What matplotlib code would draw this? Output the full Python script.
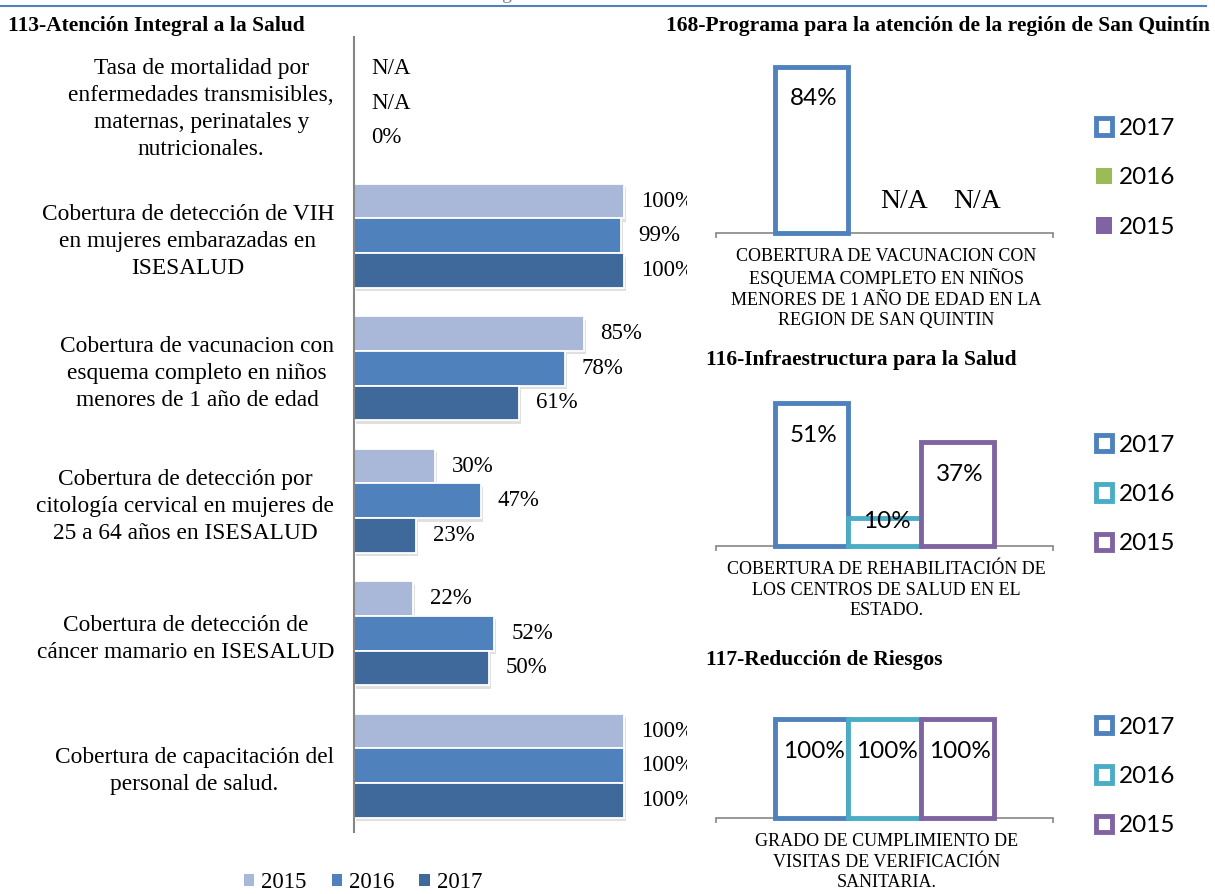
import matplotlib
matplotlib.use('Agg')
import matplotlib.pyplot as plt
from matplotlib.patches import Patch
from matplotlib.lines import Line2D
import matplotlib.patheffects as pe
import numpy as np

# ---------------- data ----------------
left_title = "113-Atención Integral a la Salud"
left_categories = [
    "Tasa de mortalidad por\nenfermedades transmisibles,\nmaternas, perinatales y\nnutricionales.",
    "Cobertura de detección de VIH\nen mujeres embarazadas en\nISESALUD",
    "Cobertura de vacunacion con\nesquema completo en niños\nmenores de 1 año de edad",
    "Cobertura de detección por\ncitología cervical en mujeres de\n25 a 64 años en ISESALUD",
    "Cobertura de detección de\ncáncer mamario en ISESALUD",
    "Cobertura de capacitación del\npersonal de salud.",
]
left_years = ["2015", "2016", "2017"]
left_2015 = [None, 1.00, 0.85, 0.30, 0.22, 1.00]
left_2016 = [None, 0.99, 0.78, 0.47, 0.52, 1.00]
left_2017 = [0.00, 1.00, 0.61, 0.23, 0.50, 1.00]

right_years = ["2017", "2016", "2015"]
p168_title = "168-Programa para la atención de la región de San Quintín"
p168_category = ("COBERTURA DE VACUNACION CON\nESQUEMA COMPLETO EN NIÑOS\n"
                 "MENORES DE 1 AÑO DE EDAD EN LA\nREGION DE SAN QUINTIN")
p168_values = [0.84, None, None]
p116_title = "116-Infraestructura para la Salud"
p116_category = "COBERTURA DE REHABILITACIÓN DE\nLOS CENTROS DE SALUD EN EL\nESTADO."
p116_values = [0.51, 0.10, 0.37]
p117_title = "117-Reducción de Riesgos"
p117_category = "GRADO DE CUMPLIMIENTO DE\nVISITAS DE VERIFICACIÓN\nSANITARIA."
p117_values = [1.00, 1.00, 1.00]

header_text = "Programa Sectorial de Salud del Estado"

# ---------------- style ----------------
W, H, DPI = 1215, 894, 100
SERIF = "Liberation Serif"
SANS = "Lato"
left_colors = ["#A9B8D8", "#4F81BD", "#3F699A"]
blue, cyan, purple, green = "#4F81BD", "#4BACC6", "#8064A2", "#9BBB59"
axis_gray = "#868686"

fig = plt.figure(figsize=(W / DPI, H / DPI), dpi=DPI)
fig.patch.set_facecolor("white")


def px_axes(left, top, right, bottom):
    return fig.add_axes([left / W, 1 - bottom / H, (right - left) / W, (bottom - top) / H])


# header line and (clipped, as in the source page) header text
fig.add_artist(Line2D([0, 1206 / W], [1 - 6 / H, 1 - 6 / H], color=blue, lw=1.5))
fig.text(630 / W, 1 - 3 / H, header_text, ha="center", va="bottom",
         color="#7F7F7F", fontsize=14, family=SERIF)

# titles
title_kw = dict(fontsize=15.5, family=SERIF, fontweight="bold", va="center")
fig.text(8 / W, 1 - 26 / H, left_title, ha="left", **title_kw)
fig.text(1210 / W, 1 - 26 / H, p168_title, ha="right", **title_kw)
fig.text(706 / W, 1 - 360 / H, p116_title, ha="left", **title_kw)
fig.text(706 / W, 1 - 660 / H, p117_title, ha="left", **title_kw)

# ---------------- left horizontal bar chart ----------------
LX0, LX1 = 354, 687
scale_left = 270.0
ax = px_axes(LX0, 37, LX1, 832)
ax.set_xlim(0, (LX1 - LX0) / scale_left)
ax.set_ylim(len(left_categories) - 0.5, -0.5)
y = np.arange(len(left_categories))
bh = 0.262
offsets = [-bh, 0.0, bh]
series = [left_2015, left_2016, left_2017]
shadow = [pe.SimplePatchShadow(offset=(1.5, -2.5), shadow_rgbFace="black", alpha=0.12), pe.Normal()]
for vals, off, col in zip(series, offsets, left_colors):
    plot_vals = [0 if v is None else v for v in vals]
    ax.barh(y + off, plot_vals, height=bh, color=col, edgecolor="white",
            linewidth=1.3, path_effects=shadow, zorder=2)
    for j, v in enumerate(vals):
        txt = "N/A" if v is None else f"{round(v * 100)}%"
        ax.annotate(txt, xy=(0 if v is None else v, y[j] + off), xytext=(17, 0),
                    textcoords="offset pixels", ha="left", va="center",
                    fontsize=16.5, family=SERIF, clip_on=True, annotation_clip=False)

ax.set_yticks(y)
ax.set_yticklabels(left_categories, fontsize=16.8, family=SERIF,
                   multialignment="center", linespacing=1.38)
ax.tick_params(axis="y", length=0, pad=14.4)
ax.set_xticks([])
for s in ["top", "right", "bottom"]:
    ax.spines[s].set_visible(False)
ax.spines["left"].set_color(axis_gray)
ax.spines["left"].set_linewidth(1.5)
ax.patch.set_visible(False)

left_handles = [Patch(facecolor=c, edgecolor="none", label=yr)
                for c, yr in zip(left_colors, left_years)]
ax.legend(handles=left_handles, loc="center", bbox_to_anchor=(363 / W, 1 - 883 / H),
          bbox_transform=fig.transFigure, ncol=3, frameon=False,
          prop={"family": SERIF, "size": 16.5}, handlelength=0.45,
          handleheight=0.45, handletextpad=0.3, columnspacing=1.1,
          borderpad=0, borderaxespad=0)

# ---------------- right column charts ----------------
bw = 73 / 337
r_offsets = [-bw, 0.0, bw]


def panel(top, bottom, scale, values, colors, handles, category, leg_cy):
    a = px_axes(716, top, 1053, bottom)
    a.set_xlim(-0.5, 0.5)
    a.set_ylim(0, (bottom - top) / scale)
    for v, off, c in zip(values, r_offsets, colors):
        if v is None:
            a.annotate("N/A", xy=(off, 0), xytext=(20, 31), textcoords="offset pixels",
                       ha="center", va="center", fontsize=20, family=SERIF)
            continue
        a.bar(off, v, width=bw, facecolor="white", edgecolor=c, linewidth=3.5,
              clip_on=False, zorder=3)
        hpx = v * scale
        dy = -min(32, hpx - 24)
        a.annotate(f"{round(v * 100)}%", xy=(off, v), xytext=(2, dy),
                   textcoords="offset pixels", ha="center", va="center",
                   fontsize=17.5, family=SANS, zorder=4)
    for s in ["top", "right", "left"]:
        a.spines[s].set_visible(False)
    a.spines["bottom"].set_color(axis_gray)
    a.spines["bottom"].set_linewidth(1.2)
    a.set_yticks([])
    a.set_xticks([-0.5, 0.5])
    a.set_xticklabels(["", ""])
    a.tick_params(axis="x", length=3.6, width=1.2, color=axis_gray, direction="out")
    a.patch.set_visible(False)
    a.annotate(category, xy=(0.5, 0), xycoords="axes fraction", xytext=(2, -15),
               textcoords="offset pixels", ha="center", va="top", fontsize=13,
               family=SERIF, multialignment="center", linespacing=1.28)
    a.legend(handles=handles, loc="center left",
             bbox_to_anchor=(1096 / W, 1 - leg_cy / H), bbox_transform=fig.transFigure,
             frameon=False, prop={"family": SANS, "size": 17.5}, handlelength=0.65,
             handleheight=0.65, handletextpad=0.3, labelspacing=1.17,
             borderpad=0, borderaxespad=0)
    return a


outline_colors = [blue, cyan, purple]
h168 = [Patch(facecolor="white", edgecolor=blue, linewidth=3.5, label=right_years[0]),
        Patch(facecolor=green, edgecolor="none", label=right_years[1]),
        Patch(facecolor=purple, edgecolor="none", label=right_years[2])]
h_out = [Patch(facecolor="white", edgecolor=c, linewidth=3.5, label=yr)
         for c, yr in zip(outline_colors, right_years)]

panel(60, 233, 198.0, p168_values, [blue, green, purple], h168, p168_category, 178)
panel(390, 546, 280.0, p116_values, outline_colors, h_out, p116_category, 494.5)
panel(705, 818, 99.0, p117_values, outline_colors, h_out, p117_category, 776.5)

fig.savefig("out.png", dpi=DPI, facecolor="white")
